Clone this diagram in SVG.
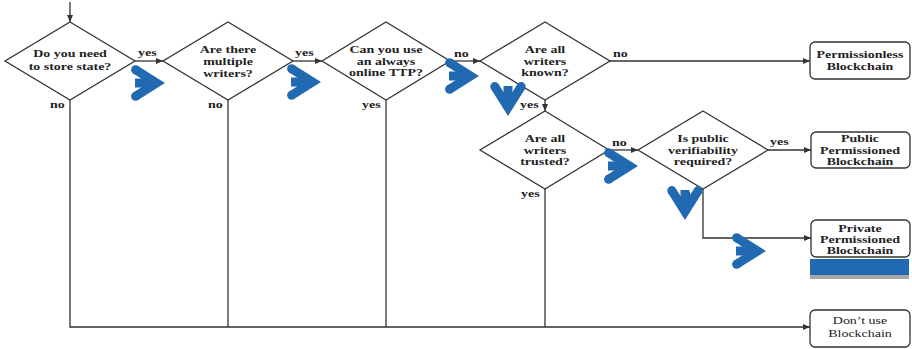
<svg xmlns="http://www.w3.org/2000/svg" xmlns:xlink="http://www.w3.org/1999/xlink" width="912" height="349" viewBox="0 0 912 349">
<style>
.bg{fill:#fff}
.shape{fill:#fff;stroke:#333;stroke-width:1.3}
.edge{fill:none;stroke:#333;stroke-width:1.3}
.t{font-family:"Liberation Serif","Times New Roman",serif;font-size:11px;font-weight:bold;fill:#222;text-anchor:middle}
.r{font-weight:normal}
.lbl{font-family:"Liberation Serif","Times New Roman",serif;font-size:11px;font-weight:bold;fill:#222}
.chev{fill:#2169b1}
</style>
<defs>
<marker id="ah" markerWidth="7" markerHeight="6" refX="7" refY="3" orient="auto" markerUnits="userSpaceOnUse">
<path d="M0,0 L7,3 L0,6 z" fill="#333"/>
</marker>
<g id="chev" class="chev">
<path d="M-2 -4 L25 13 L-2 30 L-6.8 22.4 L8.1 13 L-6.8 3.6 Z"/>
<circle cx="-4.4" cy="-0.2" r="4.5"/>
<circle cx="-4.4" cy="26.2" r="4.5"/>
<rect x="-5" y="8.5" width="16" height="9"/>
</g>
</defs>
<rect class="bg" x="0" y="0" width="912" height="349"/>

<g id="connectors">
<path class="edge" d="M70 2 V22" marker-end="url(#ah)"/>
<path class="edge" d="M135 61 H163" marker-end="url(#ah)"/>
<path class="edge" d="M293 61 H322" marker-end="url(#ah)"/>
<path class="edge" d="M450 61 H480" marker-end="url(#ah)"/>
<path class="edge" d="M610 61 H810" marker-end="url(#ah)"/>
<path class="edge" d="M545 100 V111" marker-end="url(#ah)"/>
<path class="edge" d="M609 150 H638" marker-end="url(#ah)"/>
<path class="edge" d="M768 150 H811" marker-end="url(#ah)"/>
<path class="edge" d="M703 189 V238 H811" marker-end="url(#ah)"/>
<path class="edge" d="M70 100 V327 H810" marker-end="url(#ah)"/>
<path class="edge" d="M228 100 V327"/>
<path class="edge" d="M386 100 V327"/>
<path class="edge" d="M545 189 V327"/>
<text class="lbl" transform="translate(138 56) scale(1.27 1)">yes</text>
<text class="lbl" transform="translate(295 56) scale(1.27 1)">yes</text>
<text class="lbl" transform="translate(454 57) scale(1.27 1)">no</text>
<text class="lbl" transform="translate(613 57) scale(1.27 1)">no</text>
<text class="lbl" transform="translate(50 108) scale(1.27 1)">no</text>
<text class="lbl" transform="translate(208 108) scale(1.27 1)">no</text>
<text class="lbl" transform="translate(362 108) scale(1.27 1)">yes</text>
<text class="lbl" transform="translate(520 108) scale(1.27 1)">yes</text>
<text class="lbl" transform="translate(612 146) scale(1.27 1)">no</text>
<text class="lbl" transform="translate(770 145) scale(1.27 1)">yes</text>
<text class="lbl" transform="translate(521 197) scale(1.27 1)">yes</text>
<text class="lbl" transform="translate(683 197) scale(1.27 1)">no</text>
</g>

<g id="d1">
<polygon class="shape" points="70,22 135,61 70,100 5,61"/>
<text class="t" transform="translate(70 57) scale(1.27 1)">Do you need</text>
<text class="t" transform="translate(70 70) scale(1.27 1)">to store state?</text>
</g>
<g id="d2">
<polygon class="shape" points="228,22 293,61 228,100 163,61"/>
<text class="t" transform="translate(228 53) scale(1.27 1)">Are there</text>
<text class="t" transform="translate(228 65) scale(1.27 1)">multiple</text>
<text class="t" transform="translate(228 77) scale(1.27 1)">writers?</text>
</g>
<g id="d3">
<polygon class="shape" points="386,22 450,61 386,100 322,61"/>
<text class="t" transform="translate(386 53) scale(1.27 1)">Can you use</text>
<text class="t" transform="translate(386 65) scale(1.27 1)">an always</text>
<text class="t" transform="translate(386 76) scale(1.27 1)">online TTP?</text>
</g>
<g id="d4">
<polygon class="shape" points="545,22 610,61 545,100 480,61"/>
<text class="t" transform="translate(545 53) scale(1.27 1)">Are all</text>
<text class="t" transform="translate(545 65) scale(1.27 1)">writers</text>
<text class="t" transform="translate(545 76) scale(1.27 1)">known?</text>
</g>
<g id="d5">
<polygon class="shape" points="545,111 609,150 545,189 480,150"/>
<text class="t" transform="translate(545 142) scale(1.27 1)">Are all</text>
<text class="t" transform="translate(545 154) scale(1.27 1)">writers</text>
<text class="t" transform="translate(545 165) scale(1.27 1)">trusted?</text>
</g>
<g id="d6">
<polygon class="shape" points="703,111 768,150 703,189 638,150"/>
<text class="t" transform="translate(703 142) scale(1.27 1)">Is public</text>
<text class="t" transform="translate(703 154) scale(1.27 1)">verifiability</text>
<text class="t" transform="translate(703 165) scale(1.27 1)">required?</text>
</g>
<g id="b-permissionless">
<rect class="shape" x="810" y="42" width="100" height="37" rx="5"/>
<text class="t" transform="translate(860 58) scale(1.27 1)">Permissionless</text>
<text class="t" transform="translate(860 70) scale(1.27 1)">Blockchain</text>
</g>
<g id="b-public">
<rect class="shape" x="811" y="132" width="99" height="36" rx="5"/>
<text class="t" transform="translate(860 142) scale(1.27 1)">Public</text>
<text class="t" transform="translate(860 154) scale(1.27 1)">Permissioned</text>
<text class="t" transform="translate(860 165) scale(1.27 1)">Blockchain</text>
</g>
<g id="b-private">
<rect class="shape" x="811" y="220" width="99" height="37" rx="5"/>
<text class="t" transform="translate(860 232) scale(1.27 1)">Private</text>
<text class="t" transform="translate(860 243) scale(1.27 1)">Permissioned</text>
<text class="t" transform="translate(860 254) scale(1.27 1)">Blockchain</text>
</g>
<g id="b-dontuse">
<rect class="shape" x="810" y="310" width="100" height="37" rx="5"/>
<text class="t r" transform="translate(860 324) scale(1.27 1)">Don’t use</text>
<text class="t r" transform="translate(860 337) scale(1.27 1)">Blockchain</text>
</g>

<g id="highlights">
<rect x="810" y="259" width="99" height="16" fill="#2169b1"/>
<rect x="810" y="275" width="99" height="4" fill="#a8a8a8"/>
<use xlink:href="#chev" transform="translate(140 70)"/>
<use xlink:href="#chev" transform="translate(296 69)"/>
<use xlink:href="#chev" transform="translate(454 63)"/>
<use xlink:href="#chev" transform="translate(521 91) rotate(90)"/>
<use xlink:href="#chev" transform="translate(613 153)"/>
<use xlink:href="#chev" transform="translate(698 195) rotate(90)"/>
<use xlink:href="#chev" transform="translate(741 238)"/>
</g>
</svg>
